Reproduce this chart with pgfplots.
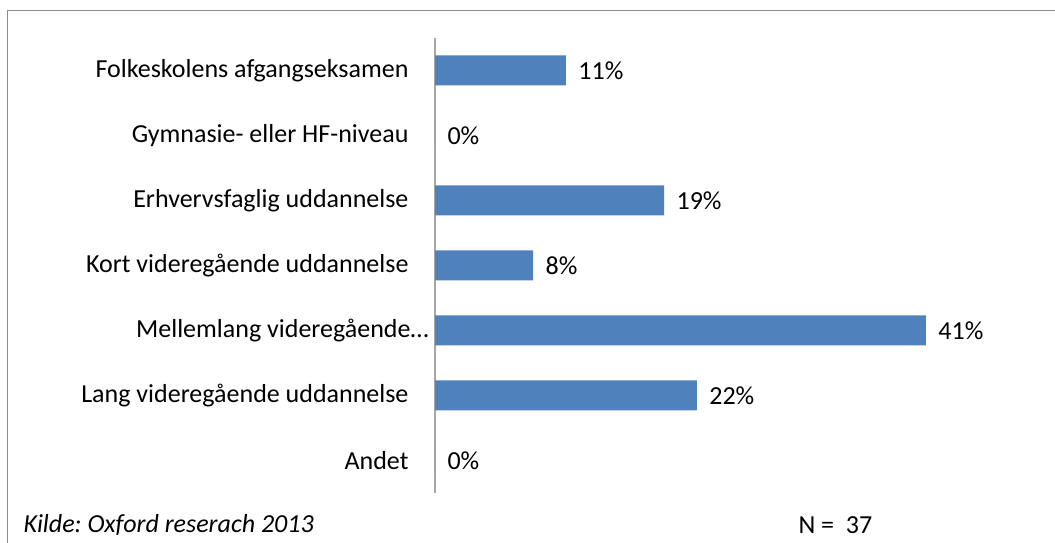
\documentclass[border=0pt]{standalone}
\usepackage{pgfplots}
\pgfplotsset{compat=1.18}
\usepackage{fontspec}
\setmainfont{Carlito}
\frenchspacing
\definecolor{barblue}{HTML}{4F81BD}
\definecolor{axgrey}{HTML}{A6A6A6}
\definecolor{framegrey}{HTML}{8C8C8C}
\begin{document}
\begin{tikzpicture}[x=1bp,y=1bp]
\useasboundingbox (0,0) rectangle (1055,543);
\draw[framegrey, line width=1.5bp] (7.5,-5) -- (7.5,532.5) -- (1060,532.5);
\begin{axis}[
  at={(435bp,50bp)}, anchor=south west,
  scale only axis,
  width=606bp, height=455bp,
  xbar, bar width=30bp,
  xmin=0, xmax=50,
  ymin=-0.5, ymax=6.5,
  y dir=reverse,
  axis x line=none,
  axis y line*=left,
  y axis line style={axgrey, line width=1.2bp, -},
  ytick={0,...,6},
  yticklabels={Folkeskolens afgangseksamen, Gymnasie- eller HF-niveau, Erhvervsfaglig uddannelse, Kort videregående uddannelse, {\kern0pt Mellemlang videregående…\kern-20bp}, Lang videregående uddannelse, Andet},
  major tick length=0pt,
  yticklabel style={font=\fontsize{26bp}{30bp}\selectfont, anchor=east, xshift=-23bp},
  point meta=explicit symbolic,
  nodes near coords,
  nodes near coords style={font=\fontsize{26bp}{30bp}\selectfont, anchor=west, xshift=9bp},
  clip=false,
]
\addplot[fill=barblue, draw=none] table[x=v, y=c, meta=lab] {
c v lab
0 10.8 11\%
1 0 0\%
2 18.9 19\%
3 8.1 8\%
4 40.5 41\%
5 21.6 22\%
6 0 0\%
};
\end{axis}
\node[anchor=west, font=\fontsize{26bp}{30bp}\selectfont\itshape] at (20,18) {Kilde: Oxford reserach 2013};
\node[anchor=west, font=\fontsize{26bp}{30bp}\selectfont] at (795,18) {N =~ 37};
\end{tikzpicture}
\end{document}
